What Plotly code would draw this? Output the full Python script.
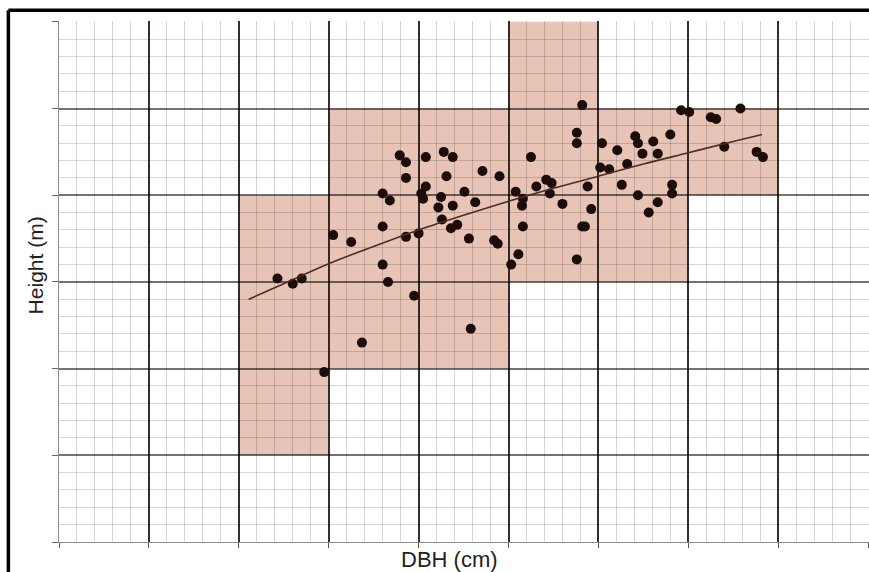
import plotly.graph_objects as go

# Tree data (DBH in cm, height in m)
dbh = [24.3, 26.0, 27.0, 29.5, 30.5, 32.5, 33.7, 36.0, 36.6, 36.0, 36.0, 36.8,
       38.6, 37.9, 38.6, 38.6, 40.8, 42.8, 43.8, 43.1, 40.8, 40.3, 40.5, 42.5,
       42.2, 43.8, 42.6, 43.6, 44.3, 45.1, 46.3, 47.1, 49.0, 45.6, 48.4, 48.8,
       40.0, 39.5, 45.8, 51.1, 50.3, 51.6, 51.5, 51.6, 50.8, 52.5, 53.1, 58.2,
       57.6, 57.6, 60.4, 62.1, 64.1, 64.4, 64.9, 66.1, 66.6, 60.2, 61.2, 63.2,
       62.6, 64.4, 65.6, 66.6, 54.2, 54.8, 54.6, 56.0, 58.8, 59.2, 58.2, 58.5,
       57.6, 69.2, 70.1, 72.5, 73.1, 75.8, 68.0, 74.0, 77.6, 78.3, 68.2, 68.2]
height = [15.2, 14.9, 15.2, 9.8, 17.7, 17.3, 11.5, 16.0, 15.0, 18.2, 20.1, 19.7,
          17.6, 22.3, 21.9, 21.0, 22.2, 22.5, 22.2, 21.1, 20.5, 20.1, 19.8, 19.9,
          19.3, 19.4, 18.6, 18.1, 18.3, 20.2, 19.6, 21.4, 21.1, 17.5, 17.4, 17.2,
          17.8, 14.2, 12.3, 16.6, 16.0, 18.2, 19.4, 19.8, 20.2, 22.2, 20.5, 25.2,
          23.6, 23.0, 23.0, 22.6, 23.4, 23.0, 22.4, 23.1, 22.4, 21.6, 21.5, 21.8,
          20.6, 20.0, 19.0, 19.6, 20.9, 20.7, 20.1, 19.5, 20.5, 19.2, 18.2, 18.2,
          16.3, 24.9, 24.8, 24.5, 24.4, 25.0, 23.5, 22.8, 22.5, 22.2, 20.6, 20.1]

# Fitted height-diameter curve
fit_dbh = [21.1, 25, 30, 35, 40, 45, 50, 55, 60, 65, 70, 75, 78.2]
fit_height = [14.0, 14.9, 16.05, 17.05, 18.0, 18.85, 19.65, 20.4, 21.1, 21.8, 22.45, 23.1, 23.5]

# Shaded classes: (dbh_from, dbh_to, height_from, height_to)
class_x0 = [20, 30, 50, 60, 70]
class_x1 = [30, 50, 60, 70, 80]
class_y0 = [5, 10, 15, 15, 20]
class_y1 = [20, 25, 30, 25, 25]

fig = go.Figure()

fig.add_trace(go.Scatter(x=dbh, y=height, mode="markers",
                         marker=dict(size=10, color="#1c0d0a"),
                         showlegend=False, hoverinfo="skip"))
fig.add_trace(go.Scatter(x=fit_dbh, y=fit_height, mode="lines",
                         line=dict(color="#4e2c22", width=1.6, shape="spline"),
                         showlegend=False, hoverinfo="skip"))

for a, b, c, d in zip(class_x0, class_x1, class_y0, class_y1):
    fig.add_shape(type="rect", xref="x", yref="y", x0=a, x1=b, y0=c, y1=d,
                  fillcolor="rgb(231,196,182)", line=dict(width=0), layer="below")

# outer frame (top and left edges visible)
fig.add_shape(type="line", xref="paper", yref="paper", x0=-0.0625, x1=1.1,
              y0=1.0205, y1=1.0205, line=dict(color="black", width=3.5))
fig.add_shape(type="line", xref="paper", yref="paper", x0=-0.0625, x1=-0.0625,
              y0=1.0205, y1=-0.2, line=dict(color="black", width=3.5))

fig.add_annotation(text="DBH (cm)", xref="paper", yref="paper", x=0.4827, y=-0.033,
                   xanchor="center", yanchor="middle", showarrow=False,
                   font=dict(family="Liberation Sans, Arial", size=22, color="#222"))
fig.add_annotation(text="Height (m)", xref="paper", yref="paper", x=-0.029, y=0.53,
                   xanchor="center", yanchor="middle", showarrow=False, textangle=-90,
                   font=dict(family="Liberation Sans, Arial", size=21, color="#222"))

fig.update_xaxes(range=[0, 90.1], dtick=10, tick0=0, showgrid=True,
                 gridcolor="rgba(20,10,10,0.85)", gridwidth=2,
                 minor=dict(dtick=2, showgrid=True, gridcolor="rgba(0,0,0,0.16)", gridwidth=1),
                 showticklabels=False, ticks="outside", ticklen=5, tickcolor="#555",
                 showline=True, linecolor="rgba(0,0,0,0.45)", linewidth=1,
                 zeroline=False, fixedrange=True)
fig.update_yaxes(range=[0, 30.05], dtick=5, tick0=0, showgrid=True,
                 gridcolor="rgba(0,0,0,0.55)", gridwidth=1.5,
                 minor=dict(dtick=1, showgrid=True, gridcolor="rgba(0,0,0,0.16)", gridwidth=1),
                 showticklabels=False, ticks="outside", ticklen=6, tickcolor="#666",
                 showline=True, linecolor="rgba(0,0,0,0.45)", linewidth=1,
                 zeroline=False, fixedrange=True)

fig.update_layout(width=869, height=572, margin=dict(l=59, r=0, t=21, b=30),
                  paper_bgcolor="white", plot_bgcolor="white", showlegend=False)

fig.write_html("out.html")
